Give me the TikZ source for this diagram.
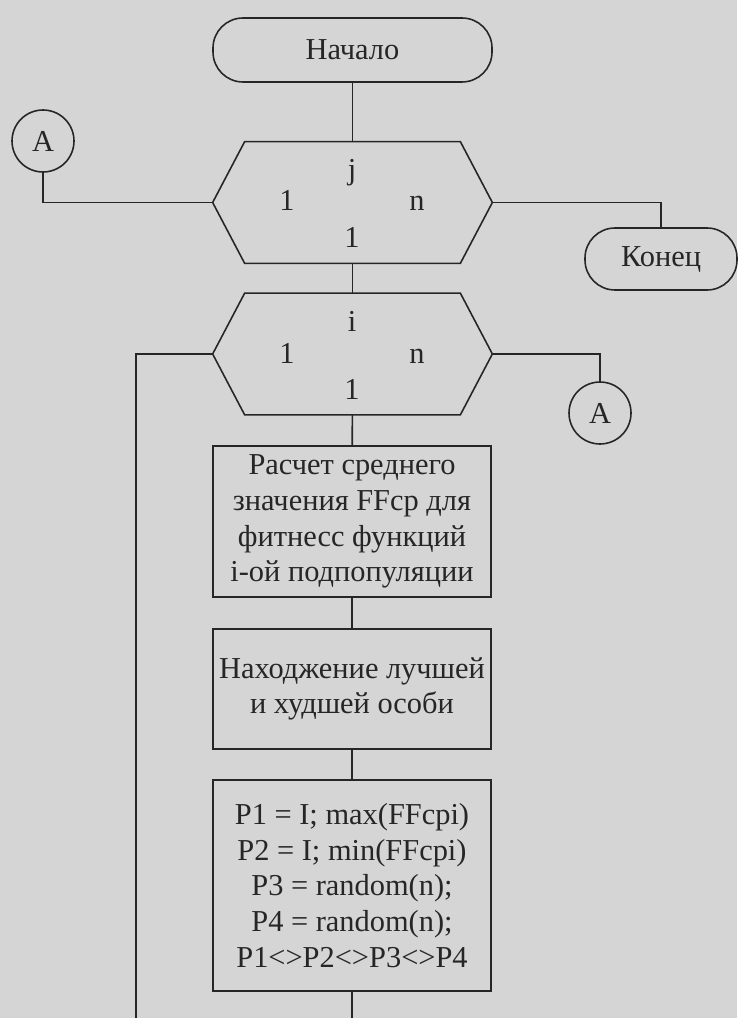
\documentclass[tikz,border=0pt]{standalone}
\usepackage{fontspec}
\setmainfont{Liberation Serif}
\usetikzlibrary{positioning}

\definecolor{scangray}{HTML}{D5D5D5}
\definecolor{inkgray}{HTML}{262626}

\tikzset{
	terminal/.style={shape=rectangle, rounded corners=0.6cm, draw=inkgray, line width=0.9pt},
	procbox/.style={shape=rectangle, draw=inkgray, line width=0.9pt, align=center, minimum width=5.56cm},
	loopbox/.style={shape=rectangle, minimum width=5.58cm, minimum height=2.42cm},
	jumpnode/.style={shape=circle, draw=inkgray, line width=0.9pt, minimum size=1.24cm, inner sep=0pt},
	param/.style={text height=0.68em, text depth=0.2em, inner sep=1pt},
	line/.style={draw=inkgray, line width=0.9pt},
}

\begin{document}
\begin{tikzpicture}[font=\fontsize{17.3}{20.3}\selectfont, text=inkgray]
	\fill[scangray] (0,0) rectangle (14.74,-20.36);
	\useasboundingbox (0,0) rectangle (14.74,-20.36);

	% start, loops and end
	\node[terminal, minimum width=5.58cm, minimum height=1.28cm] (start) at (7.05,-1.0)  {Начало};
	\node[loopbox]                                              (h1)    at (7.05,-4.05) {};
	\node[loopbox]                                              (h2)    at (7.05,-7.08) {};
	\node[terminal, minimum width=3.04cm, minimum height=1.24cm] (stop)  at (13.22,-5.18) {Конец};
	\node[jumpnode]                                             (a1)    at (0.86,-2.82) {A};
	\node[jumpnode]                                             (a2)    at (12.0,-8.26) {A};

	% loop parameters
	\node[param] (j)     at (7.04,-3.50) {j};
	\node[param] (jfrom) at (5.74,-4.12) {1};
	\node[param] (jto)   at (8.34,-4.12) {n};
	\node[param] (jstep) at (7.04,-4.86) {1};
	\node[param] (i)     at (7.04,-6.54) {i};
	\node[param] (ifrom) at (5.74,-7.18) {1};
	\node[param] (ito)   at (8.34,-7.18) {n};
	\node[param] (istep) at (7.04,-7.90) {1};

	% process boxes
	\node[procbox, minimum height=3.02cm] (mean)  at (7.04,-10.43) {Расчет среднего\\значения FFср для\\фитнесс функций\\i-ой подпопуляции};
	\node[procbox, minimum height=2.40cm] (best)  at (7.04,-13.78) {Находжение лучшей\\и худшей особи};
	\node[procbox, minimum height=4.22cm] (swap)  at (7.04,-17.71) {P1 = I; max(FFcpi)\\P2 = I; min(FFcpi)\\P3 = random(n);\\P4 = random(n);\\P1<>P2<>P3<>P4};

	\coordinate (loopend) at (2.72,-20.36);
	\coordinate (downend) at (7.04,-20.36);

	% hexagon outlines
	\foreach \h in {h1,h2}
		\draw[line] (\h.west) -- ([xshift=0.64cm]\h.north west) -- ([xshift=-0.64cm]\h.north east)
			-- (\h.east) -- ([xshift=-0.64cm]\h.south east) -- ([xshift=0.64cm]\h.south west) -- cycle;

	\path [line] (start) edge (h1);
	\path [line] (h1)    edge (h2);
	\path [line] (h2)    edge (mean);
	\path [line] (mean)  edge (best);
	\path [line] (best)  edge (swap);
	\path [line] (swap)  edge (downend);

	\draw [line] (a1.south) |- (h1.west);
	\draw [line] (h1.east)  -| (stop.north);
	\draw [line] (h2.east)  -| (a2.north);
	\draw [line] (h2.west)  -| (loopend);
\end{tikzpicture}
\end{document}
